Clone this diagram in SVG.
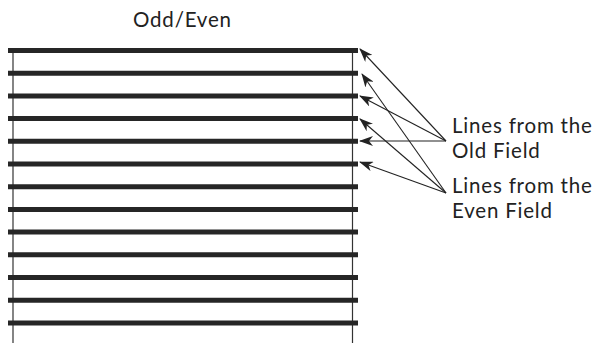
<svg xmlns="http://www.w3.org/2000/svg" width="597" height="343" viewBox="0 0 597 343">
<style>
.bar{stroke:#262626;stroke-width:5;}
.side{stroke:#333;stroke-width:1.2;}
.arr{stroke:#222;stroke-width:1.1;fill:none;marker-end:url(#ah);}
.t{font-family:Lato,"Open Sans",sans-serif;font-size:20.5px;letter-spacing:0.8px;fill:#222;}
</style>
<defs>
<marker id="ah" markerWidth="14" markerHeight="10" refX="13" refY="5" orient="auto" markerUnits="userSpaceOnUse">
<path d="M0,0 L14,5 L0,10 L4,5 Z" fill="#222"/>
</marker>
</defs>
<rect width="597" height="343" fill="#fff"/>
<g id="title"><text class="t" x="133" y="27">Odd/Even</text></g>
<g id="frame">
<line class="side" x1="13" y1="50" x2="13" y2="343"/>
<line class="side" x1="352.5" y1="50" x2="352.5" y2="343"/>
</g>
<g id="lines">
<line class="bar" x1="8" y1="50.5" x2="358" y2="50.5"/>
<line class="bar" x1="8" y1="73.2" x2="358" y2="73.2"/>
<line class="bar" x1="8" y1="95.9" x2="358" y2="95.9"/>
<line class="bar" x1="8" y1="118.6" x2="358" y2="118.6"/>
<line class="bar" x1="8" y1="141.3" x2="358" y2="141.3"/>
<line class="bar" x1="8" y1="164" x2="358" y2="164"/>
<line class="bar" x1="8" y1="186.7" x2="358" y2="186.7"/>
<line class="bar" x1="8" y1="209.4" x2="358" y2="209.4"/>
<line class="bar" x1="8" y1="232.1" x2="358" y2="232.1"/>
<line class="bar" x1="8" y1="254.8" x2="358" y2="254.8"/>
<line class="bar" x1="8" y1="277.5" x2="358" y2="277.5"/>
<line class="bar" x1="8" y1="300.2" x2="358" y2="300.2"/>
<line class="bar" x1="8" y1="322.9" x2="358" y2="322.9"/>
</g>
<g id="connectors">
<line class="arr" x1="446" y1="141" x2="360" y2="49"/>
<line class="arr" x1="446" y1="141" x2="360" y2="96"/>
<line class="arr" x1="446" y1="141" x2="360" y2="141"/>
<line class="arr" x1="446" y1="193" x2="362" y2="74"/>
<line class="arr" x1="446" y1="193" x2="360" y2="119"/>
<line class="arr" x1="446" y1="193" x2="360" y2="162"/>
</g>
<g id="label-old"><text class="t" x="452" y="133">Lines from the</text><text class="t" x="452" y="158">Old Field</text></g>
<g id="label-even"><text class="t" x="452" y="193">Lines from the</text><text class="t" x="452" y="218">Even Field</text></g>
</svg>
